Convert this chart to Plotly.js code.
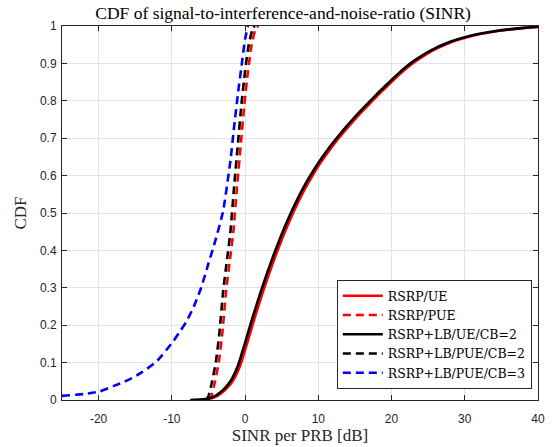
<!DOCTYPE html>
<html>
<head>
<meta charset="utf-8">
<script src="https://cdn.plot.ly/plotly-3.0.1.min.js"></script>
<style>html,body{margin:0;padding:0;background:#fff;}#chart{width:553px;height:447px;}</style>
</head>
<body>
<div id="chart"></div>
<script>
// Solid curves (UE)
const xBlackUE = [-7.5, -6, -5, -4, -3, -2, -1, 0, 1, 2, 3, 4, 5, 6, 7, 8, 9, 10, 11, 12, 13, 14, 15, 16, 17, 18, 19, 20, 21, 22, 23, 24, 25, 26, 27, 28, 30, 32, 34, 36, 38, 40];
const yBlackUE = [0, 0.001, 0.004, 0.012, 0.027, 0.05, 0.09, 0.153, 0.219, 0.281, 0.339, 0.393, 0.443, 0.489, 0.531, 0.569, 0.603, 0.634, 0.662, 0.688, 0.712, 0.735, 0.757, 0.778, 0.798, 0.818, 0.837, 0.856, 0.874, 0.891, 0.906, 0.919, 0.931, 0.941, 0.95, 0.958, 0.97, 0.979, 0.986, 0.991, 0.995, 0.998];
const xRedUE = [-7.2, -5.7, -4.7, -3.7, -2.7, -1.7, -0.7, 0.3, 1.3, 2.3, 3.3, 4.3, 5.3, 6.3, 7.3, 8.3, 9.3, 10.3, 11.3, 12.3, 13.3, 14.3, 15.3, 16.3, 17.3, 18.3, 19.3, 20.3, 21.3, 22.3, 23.3, 24.3, 25.3, 26.3, 27.3, 28.3, 30.3, 32.3, 34.3, 36.3, 38.3, 40.3];
const yRedUE = [0, 0.001, 0.004, 0.012, 0.027, 0.05, 0.09, 0.153, 0.219, 0.281, 0.339, 0.393, 0.443, 0.489, 0.531, 0.569, 0.603, 0.634, 0.662, 0.688, 0.712, 0.735, 0.757, 0.778, 0.798, 0.818, 0.837, 0.856, 0.874, 0.891, 0.906, 0.919, 0.931, 0.941, 0.95, 0.958, 0.97, 0.979, 0.986, 0.991, 0.995, 0.998];

// Dashed curves (PUE)
const xBlackPUE = [-5.3, -5, -4.5, -4, -3.5, -3, -2.5, -2, -1.5, -1, -0.5, 0, 0.5, 1, 1.3];
const yBlackPUE = [0, 0.01, 0.05, 0.1, 0.18, 0.29, 0.37, 0.45, 0.57, 0.68, 0.79, 0.88, 0.95, 0.99, 1.0];
const xRedPUE = [-4.9, -4.6, -4.1, -3.6, -3.1, -2.6, -2.1, -1.6, -1.1, -0.6, -0.1, 0.4, 0.9, 1.4, 1.8];
const yRedPUE = [0, 0.01, 0.05, 0.1, 0.18, 0.29, 0.37, 0.45, 0.57, 0.68, 0.79, 0.88, 0.95, 0.99, 1.0];
const xBluePUE = [-25, -22, -20, -18, -16, -14, -12, -10, -9, -8, -7, -6, -5, -4, -3, -2, -1.5, -1, -0.5, 0, 0.4];
const yBluePUE = [0.011, 0.016, 0.022, 0.037, 0.053, 0.075, 0.105, 0.152, 0.18, 0.21, 0.25, 0.3, 0.365, 0.43, 0.505, 0.64, 0.73, 0.815, 0.89, 0.965, 1.0];

const names = ['RSRP/UE', 'RSRP/PUE', 'RSRP+LB/UE/CB=2', 'RSRP+LB/PUE/CB=2', 'RSRP+LB/PUE/CB=3'];
const xTicks = [-20, -10, 0, 10, 20, 30, 40];
const yTicks = [0, 0.1, 0.2, 0.3, 0.4, 0.5, 0.6, 0.7, 0.8, 0.9, 1];
const yTickText = ['0', '0.1', '0.2', '0.3', '0.4', '0.5', '0.6', '0.7', '0.8', '0.9', '1'];

const LW = 2.6;
const DASH = '8px,5px';
const SM = {shape: 'spline', smoothing: 0.5};
const traces = [
  {x: xRedUE, y: yRedUE, name: names[0], mode: 'lines', line: Object.assign({color: '#ff0000', width: LW}, SM)},
  {x: xRedPUE, y: yRedPUE, name: names[1], mode: 'lines', line: Object.assign({color: '#ff0000', width: LW, dash: DASH}, SM)},
  {x: xBlackUE, y: yBlackUE, name: names[2], mode: 'lines', line: Object.assign({color: '#000000', width: LW}, SM)},
  {x: xBlackPUE, y: yBlackPUE, name: names[3], mode: 'lines', line: Object.assign({color: '#000000', width: LW, dash: DASH}, SM)},
  {x: xBluePUE, y: yBluePUE, name: names[4], mode: 'lines', line: Object.assign({color: '#0000ff', width: LW, dash: DASH}, SM)}
];

const serif = "'Liberation Serif', 'DejaVu Serif', serif";
const serif2 = "'DejaVu Serif', 'Liberation Serif', serif";
const sans = "'Liberation Sans', Arial, sans-serif";
const axisCommon = {
  showgrid: true, gridcolor: '#e3e3e3', gridwidth: 1,
  showline: true, linecolor: '#262626', linewidth: 1, mirror: 'ticks',
  ticks: 'inside', ticklen: 5, tickcolor: '#262626', tickwidth: 1,
  zeroline: false, tickfont: {family: sans, size: 12, color: '#262626'}
};

const layout = {
  width: 553, height: 447,
  margin: {l: 62, r: 15, t: 26, b: 47},
  paper_bgcolor: '#ffffff', plot_bgcolor: '#ffffff',
  showlegend: true,
  title: {text: 'CDF of signal-to-interference-and-noise-ratio (SINR)', font: {family: serif, size: 17.5, color: '#000'}, x: 0.512, xanchor: 'center', y: 0.972, yanchor: 'middle'},
  xaxis: Object.assign({}, axisCommon, {range: [-25, 40], tickvals: xTicks, ticktext: xTicks.map(String), ticklabelstandoff: 8,
    title: {text: 'SINR per PRB [dB]', font: {family: serif, size: 17, color: '#262626'}, standoff: 0}}),
  yaxis: Object.assign({}, axisCommon, {range: [0, 1], tickvals: yTicks, ticktext: yTickText, ticklabelstandoff: 2,
    title: {text: 'CDF', font: {family: serif, size: 17, color: '#262626'}, standoff: 8}}),
  legend: {x: 0.987, y: 0.029, xanchor: 'right', yanchor: 'bottom', bgcolor: '#ffffff', bordercolor: '#262626', borderwidth: 1,
    font: {family: serif2, size: 12.5, color: '#000'}, tracegroupgap: 0, itemwidth: 40}
};

Plotly.newPlot('chart', traces, layout, {staticPlot: true, displayModeBar: false});
</script>
</body>
</html>
